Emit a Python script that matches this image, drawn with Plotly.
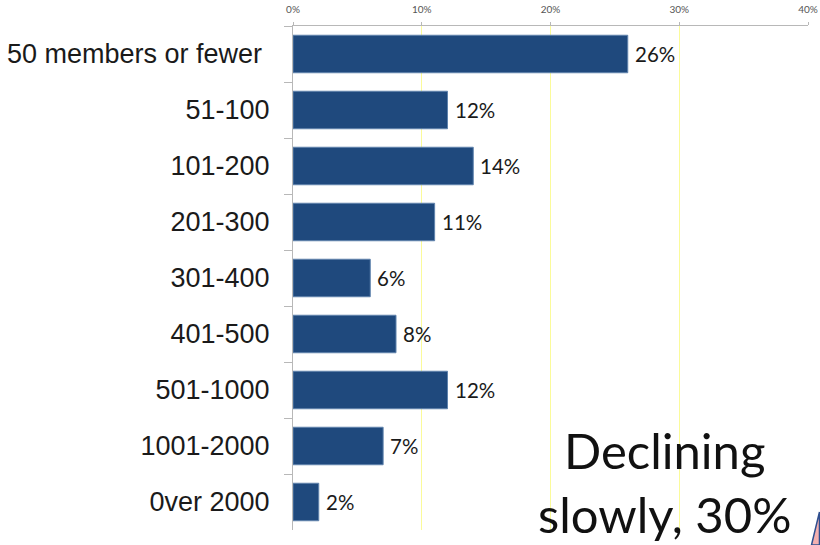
import plotly.graph_objects as go

categories = ["50 members or fewer\u00a0", "51-100", "101-200", "201-300", "301-400",
              "401-500", "501-1000", "1001-2000", "0ver 2000"]
shares = [26, 12, 14, 11, 6, 8, 12, 7, 2]
share_labels = ["26%", "12%", "14%", "11%", "6%", "8%", "12%", "7%", "2%"]
axis_ticks = [0, 10, 20, 30, 40]
axis_tick_labels = ["0%", "10%", "20%", "30%", "40%"]

BAR_BLUE = "#1f497d"
GRID_YELLOW = "#fbfb9a"
AXIS_GREY = "#b8b8b8"

fig = go.Figure(go.Bar(
    y=categories,
    x=shares,
    orientation="h",
    width=0.67,
    marker=dict(color=BAR_BLUE, line=dict(color="#5f83ad", width=1)),
    hoverinfo="skip",
))

# Value labels sit a few pixels beyond each bar end
value_notes = [
    dict(
        x=value, y=category, xref="x", yref="y",
        text=label, showarrow=False,
        xanchor="left", yanchor="middle", xshift=5,
        font=dict(family="Lato", size=20.5, color="#1a1a1a"),
    )
    for category, value, label in zip(categories, shares, share_labels)
]

callout = dict(
    text="Declining<br>slowly, 30%",
    xref="paper", yref="paper",
    x=0.722, y=0.096,
    xanchor="center", yanchor="middle",
    showarrow=False,
    align="center",
    font=dict(family="Lato", size=49, color="#111111"),
)

fig.update_layout(
    width=820,
    height=545,
    margin=dict(l=292.5, r=11.5, t=26, b=15, autoexpand=False),
    paper_bgcolor="white",
    plot_bgcolor="white",
    showlegend=False,
    xaxis=dict(
        side="top",
        range=[0, 40],
        tickvals=axis_ticks,
        ticktext=axis_tick_labels,
        tickfont=dict(family="Lato", size=10, color="#555555"),
        ticklabelstandoff=5,
        showgrid=True,
        gridcolor=GRID_YELLOW,
        gridwidth=1,
        zeroline=False,
        showline=True,
        linecolor=AXIS_GREY,
        ticks="outside",
        ticklen=3,
        tickcolor=AXIS_GREY,
    ),
    yaxis=dict(
        type="category",
        categoryorder="array",
        categoryarray=categories,
        autorange="reversed",
        tickson="boundaries",
        ticks="outside",
        ticklen=8,
        tickcolor=AXIS_GREY,
        showline=True,
        linecolor=AXIS_GREY,
        showgrid=False,
        zeroline=False,
        ticklabelstandoff=17,
        tickfont=dict(family="Liberation Sans", size=27, color="#1a1a1a"),
    ),
    annotations=value_notes + [callout],
    # Corner of the flag emblem at the lower right edge
    shapes=[
        dict(
            type="path",
            xref="paper", yref="paper",
            path="M 1.0068 -0.0298 L 1.0223 0.0357 L 1.0223 -0.0298 Z",
            line=dict(color="#2f4f8f", width=1.5),
            fillcolor="#f4b0b0",
            layer="above",
        ),
    ],
)

fig.write_html("out.html")
